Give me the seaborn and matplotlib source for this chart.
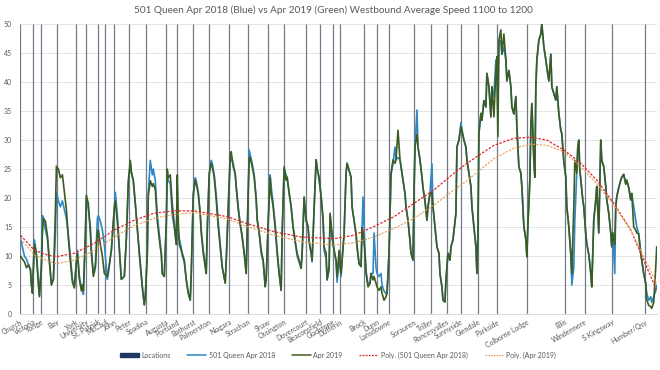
import matplotlib
matplotlib.use("Agg")
import matplotlib.pyplot as plt
from matplotlib.lines import Line2D
from matplotlib.patches import Patch
import pandas as pd
import seaborn as sns

# ── Data ──────────────────────────────────────────────────────────────────────
TITLE = "501 Queen Apr 2018 (Blue) vs Apr 2019 (Green) Westbound Average Speed 1100 to 1200"

LOCATION_NAMES = [
    "Church", "Victoria", "Yonge", "Bay", "York", "University", "St. Patrick", "McCaul",
    "John", "Peter", "Spadina", "Augusta", "Portland", "Bathurst", "Palmerston", "Niagara",
    "Strachan", "Shaw", "Ossington", "Dovercourt", "Beaconsfield", "Gladstone", "Dufferin",
    "Brock", "Dunn", "Lansdowne", "Sorauren", "Triller", "Roncesvalles", "Sunnyside",
    "Glendale", "Parkside", "Colborne Lodge", "Ellis", "Windermere", "S Kingsway", "Humber/Qsy",
]
LOCATION_POS = [
    0, 13, 21, 37, 56, 66, 78, 85, 94, 109, 126, 146, 157, 173, 189, 209, 228, 248, 264,
    286, 300, 313, 320, 344, 357, 369, 394, 411, 427, 441, 458, 477, 507, 545, 565, 592, 625,
]

sample_pos = [
    0, 2, 4, 6, 8, 10, 11, 12, 13, 14, 16, 18, 19, 21, 22, 23, 25, 27, 29, 31, 33, 35, 36,
    38, 40, 42, 44, 46, 48, 50, 52, 54, 56, 57, 59, 61, 62, 63, 65, 66, 68, 70, 71, 73, 75,
    77, 78, 80, 82, 84, 87, 88, 91, 94, 95, 97, 99, 101, 104, 106, 108, 110, 111, 113, 115,
    119, 122, 124, 125, 127, 128, 130, 132, 133, 135, 137, 140, 141, 142, 144, 146, 147, 148,
    150, 152, 154, 156, 157, 158, 159, 161, 162, 164, 166, 168, 170, 171, 173, 175, 176, 178,
    180, 181, 183, 185, 186, 187, 189, 191, 192, 194, 196, 198, 200, 202, 205, 206, 208, 210,
    211, 213, 215, 216, 218, 220, 222, 224, 226, 227, 229, 230, 232, 234, 236, 237, 239, 241,
    243, 245, 246, 248, 250, 251, 253, 255, 257, 259, 261, 262, 264, 266, 267, 269, 271, 273,
    275, 277, 279, 281, 282, 284, 286, 288, 289, 291, 292, 294, 296, 297, 299, 301, 303, 304,
    306, 307, 309, 310, 312, 314, 316, 317, 319, 321, 322, 324, 326, 327, 329, 331, 332, 334,
    336, 337, 339, 341, 342, 343, 345, 346, 348, 350, 351, 353, 354, 356, 357, 359, 361, 362,
    364, 366, 367, 369, 371, 373, 375, 376, 378, 380, 381, 383, 385, 386, 388, 390, 391, 393,
    394, 395, 397, 398, 400, 402, 403, 405, 407, 408, 410, 412, 413, 415, 417, 419, 420, 422,
    423, 425, 426, 428, 430, 431, 433, 436, 437, 439, 441, 442, 444, 446, 447, 449, 451, 452,
    454, 456, 457, 458, 459, 461, 462, 464, 466, 467, 469, 471, 472, 474, 476, 477, 478, 479,
    481, 482, 484, 486, 487, 489, 491, 492, 494, 496, 497, 499, 501, 502, 504, 506, 507, 508,
    510, 511, 512, 514, 515, 516, 517, 519, 521, 522, 524, 526, 527, 529, 531, 532, 534, 536,
    537, 539, 541, 542, 544, 546, 547, 549, 551, 552, 554, 555, 557, 558, 559, 560, 561, 563,
    564, 566, 567, 569, 571, 572, 573, 574, 576, 577, 579, 581, 582, 584, 586, 587, 589, 591,
    592, 593, 595, 596, 597, 599, 601, 602, 604, 606, 607, 609, 611, 612, 614, 616, 617, 619,
    621, 622, 624, 626, 627, 629, 631, 632, 634, 636, 637,
]

speed_2019 = [
    10.0, 9.5, 9.0, 8.0, 8.5, 7.6, 5.0, 3.6, 8.0, 12.0, 10.0, 5.0, 3.0, 8.0, 14.0, 16.5, 16.0,
    13.5, 9.0, 5.0, 6.0, 18.0, 25.5, 25.0, 23.5, 24.0, 21.0, 18.0, 13.0, 9.0, 5.5, 4.5, 9.0,
    10.5, 6.0, 4.0, 5.0, 4.0, 14.0, 20.5, 19.0, 14.0, 10.5, 6.5, 8.0, 14.0, 14.5, 12.0, 10.0,
    7.0, 6.5, 7.5, 11.0, 18.5, 19.5, 16.0, 11.0, 6.0, 6.5, 13.0, 23.0, 26.5, 24.5, 23.0, 19.0,
    10.5, 4.7, 1.6, 3.0, 10.5, 20.5, 23.0, 22.0, 22.5, 21.5, 16.0, 11.5, 10.5, 7.0, 6.5, 16.0,
    25.0, 23.5, 24.0, 19.0, 15.5, 12.0, 24.0, 16.0, 12.0, 11.0, 10.5, 9.3, 5.9, 3.6, 2.4, 7.0,
    20.8, 23.1, 22.5, 20.8, 17.4, 14.0, 10.5, 8.2, 7.0, 14.0, 24.3, 26.0, 25.4, 23.6, 19.7,
    15.0, 11.6, 8.2, 5.3, 9.3, 18.5, 27.7, 28.0, 25.4, 24.3, 22.0, 18.5, 15.5, 13.2, 10.5, 7.0,
    14.0, 27.0, 27.0, 25.4, 23.6, 19.7, 16.2, 14.0, 11.0, 9.3, 4.7, 5.9, 16.2, 23.6, 20.8, 18.5,
    14.9, 10.5, 7.0, 4.1, 13.8, 25.4, 23.1, 23.6, 20.8, 18.5, 14.9, 12.6, 10.5, 9.3, 7.9, 10.5,
    20.2, 16.0, 15.0, 12.6, 10.5, 9.3, 18.5, 26.6, 25.0, 23.6, 20.2, 16.2, 11.6, 10.5, 5.9, 8.2,
    17.4, 13.8, 11.0, 9.3, 6.4, 11.0, 7.0, 9.3, 13.8, 24.3, 26.0, 24.8, 23.6, 18.5, 16.2, 13.8,
    11.6, 8.7, 8.2, 14.9, 14.0, 10.5, 7.0, 4.7, 5.3, 7.0, 5.9, 6.5, 5.3, 4.7, 4.1, 4.7, 3.6,
    2.4, 3.0, 3.6, 10.5, 24.3, 26.6, 26.0, 26.6, 31.7, 26.6, 25.4, 23.1, 20.8, 18.5, 16.2, 12.6,
    10.5, 9.3, 20.8, 28.8, 31.0, 28.8, 26.6, 23.6, 21.8, 19.5, 16.2, 18.5, 20.8, 21.0, 18.5,
    15.1, 11.6, 10.5, 7.0, 4.7, 2.4, 2.1, 5.9, 10.5, 9.3, 11.6, 12.8, 17.4, 28.8, 30.0, 32.3,
    31.7, 30.0, 28.8, 26.6, 24.3, 22.0, 18.5, 15.1, 11.6, 7.0, 13.8, 31.1, 34.6, 33.4, 36.8,
    35.7, 41.5, 39.2, 34.0, 39.2, 34.0, 42.0, 44.4, 30.6, 47.2, 49.0, 44.8, 48.3, 43.8, 40.2,
    42.0, 39.2, 35.7, 34.5, 37.5, 32.3, 25.4, 24.3, 22.0, 15.1, 12.8, 9.9, 15.1, 23.1, 32.3,
    36.3, 26.5, 23.6, 39.2, 43.8, 47.2, 48.3, 50.0, 46.1, 43.8, 42.5, 40.2, 44.8, 39.2, 38.0,
    36.9, 39.2, 34.6, 31.7, 31.1, 26.4, 23.6, 18.5, 15.1, 10.3, 7.0, 18.5, 26.5, 24.3, 28.8,
    30.0, 24.9, 23.1, 19.7, 18.5, 13.8, 12.1, 10.3, 7.0, 4.7, 10.5, 16.2, 19.7, 22.0, 14.0,
    30.0, 26.5, 25.4, 22.0, 19.7, 17.4, 14.0, 11.6, 14.0, 12.0, 18.5, 20.2, 21.8, 23.1, 23.6,
    24.1, 22.4, 23.1, 21.8, 19.7, 20.8, 15.0, 14.5, 14.0, 13.8, 10.5, 9.3, 7.0, 5.3, 2.5, 1.5,
    1.3, 1.0, 2.0, 8.0, 11.6,
]

speed_2018 = [
    13.3, 11.5, 10.0, 9.5, 8.5, 7.8, 5.0, 3.8, 9.0, 12.8, 10.5, 5.5, 3.2, 9.0, 17.0, 16.5, 14.5,
    13.0, 9.0, 5.2, 6.0, 14.0, 21.0, 19.5, 18.5, 19.5, 18.0, 16.5, 13.5, 10.0, 6.0, 4.8, 9.0,
    11.0, 6.5, 4.5, 5.0, 3.4, 13.0, 20.0, 18.0, 15.0, 11.0, 7.0, 8.5, 16.5, 17.0, 16.0, 14.5,
    12.0, 6.0, 7.0, 11.0, 18.0, 21.0, 17.0, 11.5, 6.0, 6.5, 13.0, 22.5, 26.0, 24.5, 23.0, 19.0,
    10.5, 4.7, 1.6, 3.0, 10.5, 21.0, 26.5, 24.0, 25.0, 23.0, 17.0, 12.0, 10.5, 7.0, 6.5, 15.0,
    24.0, 23.0, 22.5, 17.0, 15.0, 12.0, 22.0, 14.0, 13.0, 11.5, 10.0, 9.0, 6.0, 3.6, 2.4, 7.0,
    20.0, 23.5, 23.0, 21.0, 17.0, 14.5, 11.0, 8.5, 7.0, 15.0, 24.0, 26.5, 26.0, 24.0, 20.5,
    16.0, 12.0, 8.0, 5.5, 9.0, 18.0, 26.0, 27.0, 26.0, 24.0, 22.0, 18.0, 15.5, 13.5, 10.5, 7.0,
    14.0, 28.3, 27.5, 26.0, 24.0, 20.0, 16.5, 14.0, 10.5, 9.0, 5.0, 5.9, 15.0, 24.0, 22.0, 19.0,
    15.5, 11.0, 7.0, 4.1, 13.8, 25.0, 24.0, 23.5, 21.0, 18.5, 15.0, 12.5, 10.0, 9.0, 7.9, 10.5,
    20.0, 16.5, 15.0, 12.6, 10.5, 9.0, 18.0, 26.6, 25.5, 23.0, 20.5, 16.5, 11.0, 9.5, 5.9, 7.5,
    17.0, 13.0, 11.0, 9.0, 5.5, 9.5, 6.5, 9.3, 13.8, 24.3, 26.0, 24.8, 23.6, 18.5, 16.2, 13.8,
    11.6, 8.7, 8.2, 14.9, 20.2, 10.5, 7.5, 5.0, 5.5, 7.0, 7.0, 14.0, 8.0, 7.0, 6.5, 7.0, 5.0,
    4.0, 3.5, 3.6, 10.5, 24.0, 26.0, 28.8, 26.6, 27.0, 26.6, 25.4, 23.1, 20.8, 18.5, 16.2, 12.6,
    10.5, 9.3, 20.8, 28.8, 35.2, 28.8, 26.6, 23.6, 21.8, 19.5, 16.2, 18.5, 20.8, 25.9, 18.5,
    15.1, 11.6, 10.5, 7.0, 4.7, 2.4, 2.1, 5.9, 10.5, 9.3, 11.6, 12.8, 17.4, 28.8, 30.0, 33.0,
    31.7, 30.0, 28.8, 26.6, 24.3, 22.0, 18.5, 15.1, 11.6, 7.0, 13.8, 31.1, 34.6, 33.4, 36.8,
    35.7, 41.5, 39.2, 34.0, 39.2, 37.5, 43.8, 42.0, 34.0, 47.2, 47.0, 44.8, 46.0, 43.8, 40.2,
    42.0, 39.2, 35.7, 34.5, 37.5, 32.3, 25.4, 24.3, 22.0, 15.1, 12.8, 9.9, 15.1, 23.1, 32.3,
    36.3, 26.5, 23.6, 39.2, 43.8, 47.2, 48.3, 50.0, 46.1, 43.8, 42.5, 40.2, 44.8, 39.2, 38.0,
    36.9, 39.2, 34.6, 31.7, 31.1, 26.4, 23.6, 18.5, 15.1, 10.3, 5.0, 8.0, 16.0, 24.3, 28.8,
    30.0, 24.9, 23.1, 19.7, 18.5, 13.8, 12.1, 10.3, 7.0, 4.7, 10.5, 16.2, 19.7, 22.0, 14.0,
    30.0, 26.5, 25.4, 22.0, 19.7, 17.4, 14.0, 11.6, 14.0, 7.0, 18.5, 20.2, 21.8, 23.1, 23.6,
    24.1, 22.4, 23.1, 21.8, 19.7, 20.8, 18.5, 16.2, 15.1, 13.8, 10.5, 9.3, 7.0, 5.3, 3.6, 2.4,
    3.0, 2.0, 3.0, 4.0, 5.0,
]

# polynomial trendlines as drawn in the source chart
trend_pos = [0, 14, 27, 36, 54, 74, 94, 114, 134, 154, 174, 207, 227, 254, 281, 314, 334,
             354, 374, 394, 414, 434, 447, 474, 494, 511, 527, 544, 561, 577, 594, 611, 624, 637]
trend_2018 = [13.6, 11.0, 10.2, 9.9, 10.5, 12.2, 14.5, 16.2, 17.4, 17.8, 17.8, 16.8, 15.6,
              14.2, 13.3, 13.0, 13.6, 15.1, 16.8, 19.1, 21.4, 24.3, 26.0, 29.1, 30.3, 30.5,
              30.0, 28.3, 26.0, 23.1, 19.1, 14.5, 9.3, 4.1]
trend_2019 = [13.0, 10.2, 9.2, 8.7, 9.3, 11.0, 13.3, 15.3, 16.5, 17.2, 17.5, 16.4, 15.1,
              13.6, 12.5, 11.9, 12.3, 13.3, 14.8, 16.5, 18.8, 21.4, 23.0, 26.8, 28.6, 29.3,
              29.1, 28.0, 25.4, 22.5, 18.8, 14.5, 9.9, 5.3]

BLUE, GREEN = "#2e88c6", "#3d5c22"
RED, ORANGE = "#e0262a", "#eb9a55"
NAVY, VLINE = "#1f3864", "#737b86"

speeds = pd.DataFrame({"pos": sample_pos, "2018": speed_2018, "2019": speed_2019})
trends = pd.DataFrame({"pos": trend_pos, "2018": trend_2018, "2019": trend_2019})

# ── Plot ──────────────────────────────────────────────────────────────────────
sns.set_style("white")
plt.rcParams["font.family"] = ["Lato", "DejaVu Sans"]

fig = plt.figure(figsize=(6.6, 3.7), dpi=100)
ax = fig.add_axes([0.031, 0.151, 0.964, 0.784])

for y in range(5, 55, 5):
    ax.axhline(y, color="#e3e3e3", lw=0.7, zorder=0)
ax.vlines(LOCATION_POS, 0, 50, color=VLINE, lw=0.9, zorder=1)

sns.lineplot(data=speeds, x="pos", y="2018", ax=ax, color=BLUE, lw=1.2, zorder=2)
sns.lineplot(data=speeds, x="pos", y="2019", ax=ax, color=GREEN, lw=1.2, zorder=3)
sns.lineplot(data=trends, x="pos", y="2018", ax=ax, color=RED, lw=0.9, ls=(0, (2, 1.2)), zorder=4)
sns.lineplot(data=trends, x="pos", y="2019", ax=ax, color=ORANGE, lw=0.8, ls=(0, (2, 1.2)), zorder=4)

ax.set_xlim(0, 637)
ax.set_ylim(0, 50)
ax.set_yticks(range(0, 55, 5))
ax.set_xticks(LOCATION_POS)
ax.set_xticklabels(LOCATION_NAMES, rotation=30, ha="right", rotation_mode="anchor",
                   fontsize=5, color="#595959")
ax.tick_params(axis="y", labelsize=5, labelcolor="#595959", length=0, pad=6)
ax.tick_params(axis="x", length=0, pad=3)
ax.set_xlabel("")
ax.set_ylabel("")
for side in ["top", "right", "left"]:
    ax.spines[side].set_visible(False)
ax.spines["bottom"].set_color("#d9d9d9")
ax.spines["bottom"].set_linewidth(0.7)

fig.suptitle(TITLE, x=0.505, y=0.985, fontsize=7.2, color="#595959")

handles = [
    Patch(facecolor=NAVY, edgecolor=NAVY),
    Line2D([], [], color=BLUE, lw=1.1),
    Line2D([], [], color=GREEN, lw=1.1),
    Line2D([], [], color=RED, lw=0.9, ls=(0, (1.5, 1))),
    Line2D([], [], color=ORANGE, lw=0.8, ls=(0, (1.5, 1))),
]
labels = ["Locations", "501 Queen Apr 2018", "Apr 2019",
          "Poly. (501 Queen Apr 2018)", "Poly. (Apr 2019)"]
fig.legend(handles, labels, loc="center", bbox_to_anchor=(0.512, 0.04), ncol=5,
           frameon=False, fontsize=5, labelcolor="#595959", handlelength=2.7,
           handleheight=0.5, columnspacing=2.4, handletextpad=0.4)

fig.savefig("out.png", dpi=100)
